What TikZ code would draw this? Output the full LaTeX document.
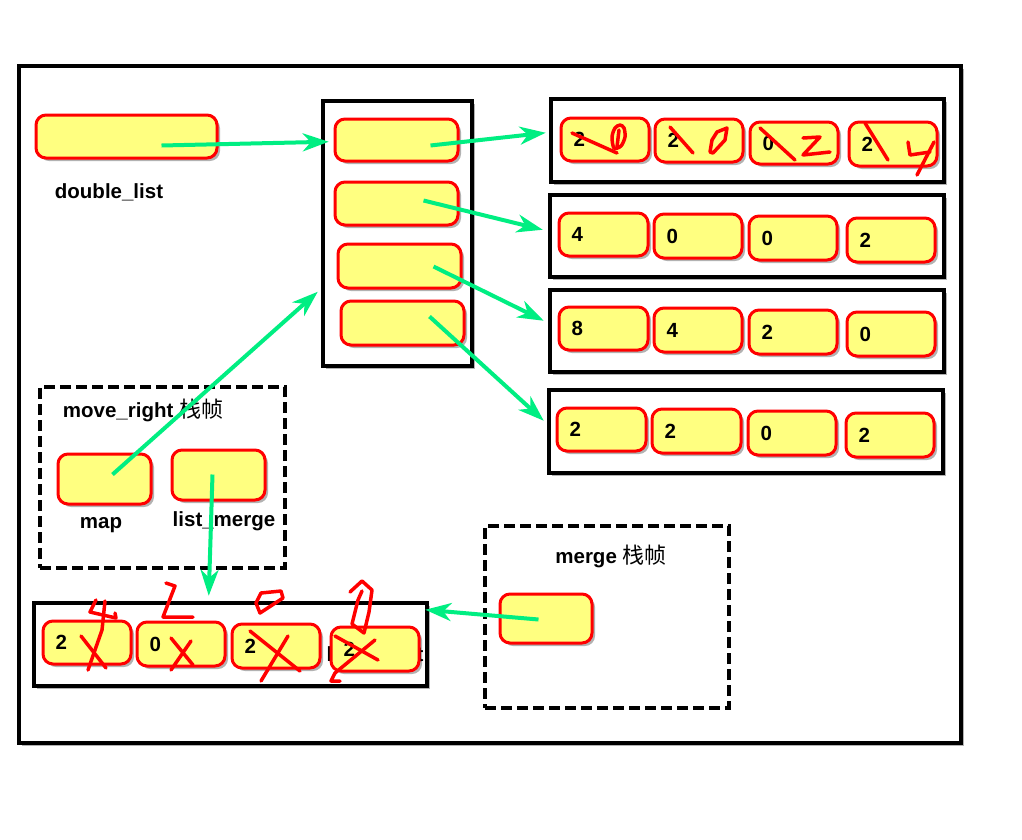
\documentclass[tikz,border=0pt]{standalone}
\usepackage{fontspec}
\setmainfont{Liberation Sans}
\newfontfamily\cjk{Noto Sans CJK SC}
\usetikzlibrary{arrows.meta,shadows,fit,calc}
\definecolor{cellfill}{RGB}{255,255,128}
\definecolor{cellred}{RGB}{255,0,0}
\definecolor{arrowgreen}{RGB}{0,238,130}
\begin{document}
\begin{tikzpicture}[x=1pt,y=-1pt,
 shade/.style={drop shadow={shadow xshift=3pt,shadow yshift=-3pt,opacity=0.3,fill=black}},
 cell/.style={draw=cellred, fill=cellfill, line width=3pt, rounded corners=10pt, inner sep=0pt, shade},
 frame/.style={draw=black, line width=4.5pt, inner sep=0pt, fill=white, shade},
 dframe/.style={draw=black, line width=4.5pt, inner sep=0pt, fill=white, dash pattern=on 11pt off 5pt},
 num/.style={font=\fontsize{20.5}{24}\selectfont\bfseries, anchor=west, inner sep=0pt},
 lbl/.style={font=\fontsize{20.5}{24}\selectfont\bfseries, inner sep=0pt},
 garrow/.style={draw=arrowgreen, line width=4pt, -{Stealth[length=26pt,width=18pt,inset=8pt]}},
 scrib/.style={draw=cellred, line width=3.5pt, line cap=round, line join=round}]
\useasboundingbox (0,0) rectangle (1022,839);
% outer frame
\node[frame, fit={(19,66)(961,743)}] (outer) {};
% double_list
\node[cell, fit={(36,115)(217,158)}] (dl) {};
\node[lbl] (dllbl) at (109,192) {double\_list};
% middle
\node[frame, fit={(323,101)(472,366)}] (mid) {};
\node[cell, fit={(335,119)(458,161)}] (m1) {};
\node[cell, fit={(335,182)(458,225)}] (m2) {};
\node[cell, fit={(338,244)(461,288)}] (m3) {};
\node[cell, fit={(341,301)(464,345)}] (m4) {};
% rows
\node[frame, fit={(551,99)(944,182)}] (row1) {};
\node[frame, fit={(550,195)(944,277)}] (row2) {};
\node[frame, fit={(550,290)(944,372)}] (row3) {};
\node[frame, fit={(549,390)(943,473)}] (row4) {};
\node[cell, fit={(561,118)(649,161)}] (r11) {};
\node[cell, fit={(655,119)(743,162)}] (r12) {};
\node[cell, fit={(750,122)(838,164)}] (r13) {};
\node[cell, fit={(849,122)(937,166)}] (r14) {};
\node[cell, fit={(559,213)(648,256)}] (r21) {};
\node[cell, fit={(654,214)(742,258)}] (r22) {};
\node[cell, fit={(749,216)(837,260)}] (r23) {};
\node[cell, fit={(847,218)(935,262)}] (r24) {};
\node[cell, fit={(559,307)(648,350)}] (r31) {};
\node[cell, fit={(654,308)(742,352)}] (r32) {};
\node[cell, fit={(749,310)(837,354)}] (r33) {};
\node[cell, fit={(847,312)(935,356)}] (r34) {};
\node[cell, fit={(557,408)(646,451)}] (r41) {};
\node[cell, fit={(652,409)(741,453)}] (r42) {};
\node[cell, fit={(748,411)(836,455)}] (r43) {};
\node[cell, fit={(846,413)(934,457)}] (r44) {};
\foreach \r/\a/\b/\c/\d in {1/2/2/0/2, 2/4/0/0/2, 3/8/4/2/0, 4/2/2/0/2}{
  \node[num] (n\r1) at ($(r\r1.west)+(14,0)$) {\a};
  \node[num] (n\r2) at ($(r\r2.west)+(14,0)$) {\b};
  \node[num] (n\r3) at ($(r\r3.west)+(14,0)$) {\c};
  \node[num] (n\r4) at ($(r\r4.west)+(14,0)$) {\d};
}
% move_right frame
\node[dframe, fit={(40,387)(285,568)}] (mv) {};
\node[lbl] (mvlbl) at (143,410) {move\_right {\cjk\mdseries\fontsize{22}{24}\selectfont 栈帧}};
\node[cell, fit={(58,454)(151,504)}] (map) {};
\node[cell, fit={(172,450)(265,500)}] (lm) {};
\node[lbl] (maplbl) at (101,525) {map};
\node[lbl] (lmlbl) at (224,521) {list\_merge};
% merge frame
\node[dframe, fit={(485,526)(729,708)}] (mg) {};
\node[lbl] (mglbl) at (611,556) {merge {\cjk\mdseries\fontsize{22}{24}\selectfont 栈帧}};
\node[cell, fit={(500,594)(592,643)}] (mgbox) {};
% bottom row
\node[frame, fit={(34,603)(427,686)}] (bot) {};
\node[lbl] (botlbl) at (375,655) {list\_result};
\node[cell, fit={(43,621)(131,664)}] (b1) {};
\node[cell, fit={(137,622)(225,666)}] (b2) {};
\node[cell, fit={(232,624)(320,668)}] (b3) {};
\node[cell, fit={(331,627)(419,671)}] (b4) {};
\node[num] (nb1) at ($(b1.west)+(14,0)$) {2};
\node[num] (nb2) at ($(b2.west)+(14,0)$) {0};
\node[num] (nb3) at ($(b3.west)+(14,0)$) {2};
\node[num] (nb4) at ($(b4.west)+(14,0)$) {2};
% arrows
\draw[garrow] ($(dl.north west)+(127,32)$) -- ($(mid.north west)+(8,43)$);
\draw[garrow] ($(m1.north west)+(97,28)$) -- ($(row1.north west)+(-3,36)$);
\draw[garrow] ($(m2.north west)+(90,20)$) -- ($(row2.north west)+(-5,37)$);
\draw[garrow] ($(m3.north west)+(97,24)$) -- ($(row3.north west)+(-4,33)$);
\draw[garrow] ($(m4.north west)+(90,17)$) -- ($(row4.north west)+(-3,33)$);
\draw[garrow] ($(map.north west)+(56,22)$) -- ($(mid.north west)+(-3,193)$);
\draw[garrow] ($(lm.north west)+(42,26)$) -- ($(bot.north west)+(177,-5)$);
\draw[garrow] ($(mgbox.north west)+(40,27)$) -- ($(bot.north east)+(-4,9)$);
% red scribbles, top row
\draw[scrib] (572,133) -- (617,153);
\draw[scrib] plot[smooth cycle] coordinates {(614,148)(612,137)(615,128)(620,125)(624,128)(625,137)(621,146)};
\draw[scrib] (619,130) -- (617,147);
\draw[scrib] (670,127) -- (693,153);
\draw[scrib] (710,152) -- (712,140) -- (717,132) -- (727,128) -- (725,140) -- (713,153) -- cycle;
\draw[scrib] (760,128) -- (795,160);
\draw[scrib] (803,138) -- (820,137) -- (803,155) -- (830,152);
\draw[scrib] (865,123) -- (888,160);
\draw[scrib] (908,142) -- (910,155) -- (930,152);
\draw[scrib] (934,142) -- (917,175);
% red scribbles, bottom row
\draw[scrib] (96,600) -- (90,612) -- (116,618) -- (115,613);
\draw[scrib] (105,601) -- (102,630) -- (88,670);
\draw[scrib] (81,636) -- (106,668);
\draw[scrib] (166,583) -- (175,586) -- (163,617) -- (193,617);
\draw[scrib] (171,638) -- (193,665);
\draw[scrib] (191,641) -- (171,670);
\draw[scrib] (261,593) -- (281,591) -- (283,598) -- (260,613) -- (256,603) -- cycle;
\draw[scrib] (250,631) -- (300,671);
\draw[scrib] (288,636) -- (261,681);
\draw[scrib] (350,592) -- (362,581) -- (372,590) -- (369,612) -- (364,633) -- (352,624) -- (358,600) -- (362,591);
\draw[scrib] (335,636) -- (378,660);
\draw[scrib] (375,640) -- (335,673) -- (331,681) -- (340,681);
\end{tikzpicture}
\end{document}
